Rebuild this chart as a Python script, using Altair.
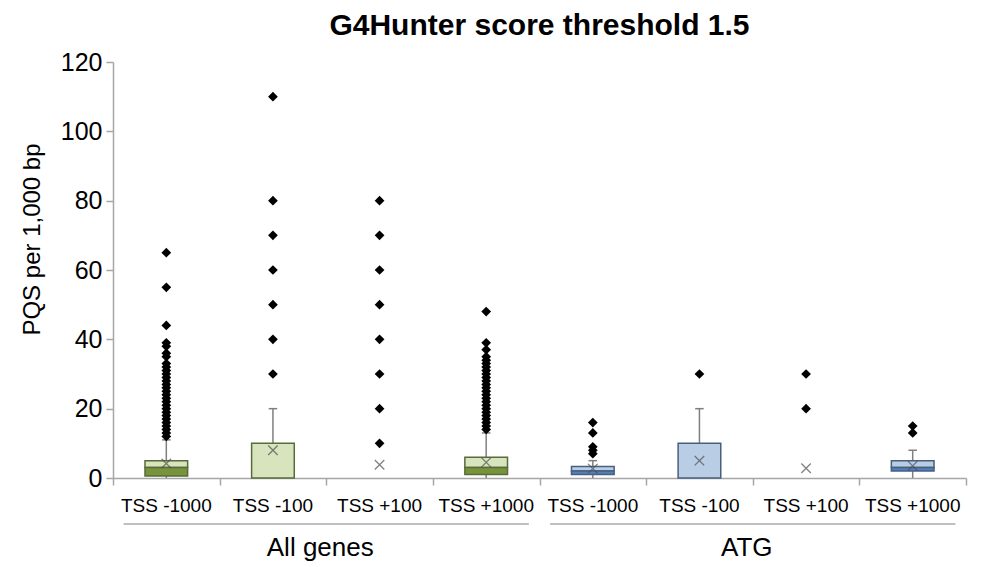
import altair as alt
import pandas as pd

# ---- data ----
groups = ["All genes"] * 4 + ["ATG"] * 4
positions = ["TSS -1000", "TSS -100", "TSS +100", "TSS +1000"] * 2
q1 = [0.6, 0, 0, 1, 1, 0, 0, 2]
median = [3, 0, 0, 3, 2, 0, 0, 3]
q3 = [5, 10, 0, 6, 3.3, 10, 0, 5]
whisker_lo = [0, 0, 0, 0, 0, 0, 0, 0]
whisker_hi = [11, 20, 0, 13, 5, 20, 0, 8]
means = [4.2, 8, 3.8, 4.5, 2.7, 5, 2.8, 3.5]
outliers = [
    list(range(12, 34)) + [35, 36, 38, 39, 44, 55, 65],
    [30, 40, 50, 60, 70, 80, 110],
    [10, 20, 30, 40, 50, 60, 70, 80],
    list(range(14, 36)) + [37, 39, 48],
    [7, 8, 9, 13, 16],
    [30],
    [20, 30],
    [13, 15],
]
group_names = ["All genes", "ATG"]

# ---- tables ----
df = pd.DataFrame({
    "group": groups, "position": positions, "q1": q1, "median": median,
    "q3": q3, "wlo": whisker_lo, "whi": whisker_hi, "mean": means,
})
df["idx"] = range(len(df))

out_rows = []
for i, vals in enumerate(outliers):
    for v in vals:
        out_rows.append({"idx": i, "value": v, "group": groups[i]})
odf = pd.DataFrame(out_rows)

gdf = pd.DataFrame({
    "group": group_names,
    "start": [groups.index(g) for g in group_names],
    "end": [len(groups) - groups[::-1].index(g) for g in group_names],
})

W, H = 853, 416
light = alt.Scale(domain=group_names, range=["#d7e4bd", "#b9cde5"])
dark = alt.Scale(domain=group_names, range=["#77933c", "#4f81bd"])
edge = alt.Scale(domain=group_names, range=["#5a6b3a", "#4a5f7e"])

xscale = alt.Scale(domain=[0, 8], nice=False, zero=False)
yscale = alt.Scale(domain=[0, 120], nice=False)

xaxis = alt.Axis(values=list(range(9)), labels=False, ticks=True, tickSize=7,
                 domainColor="#a6a6a6", tickColor="#a6a6a6", grid=False, title=None,
                 domainWidth=1.5, tickWidth=1.5)
yaxis = alt.Axis(values=[0, 20, 40, 60, 80, 100, 120], tickSize=7, grid=False,
                 domainColor="#a6a6a6", tickColor="#a6a6a6", labelFontSize=25,
                 labelColor="black", labelPadding=4, title="PQS per 1,000 bp",
                 titleFontSize=24, titleFontWeight="normal", titleColor="black",
                 titlePadding=16, titleY=177, domainWidth=1.5, tickWidth=1.5)

base = alt.Chart(df).transform_calculate(
    xl="datum.idx + 0.3", xr="datum.idx + 0.7", xc="datum.idx + 0.5",
    cl="datum.idx + 0.46", cr="datum.idx + 0.54",
)

whisk_up = base.transform_filter("datum.whi > datum.q3").mark_rule(
    color="#7f7f7f", strokeWidth=1.5).encode(
    x=alt.X("xc:Q", scale=xscale, axis=xaxis),
    y=alt.Y("q3:Q", scale=yscale, axis=yaxis),
    y2="whi:Q",
)
cap_up = base.transform_filter("datum.whi > datum.q3").mark_rule(
    color="#7f7f7f", strokeWidth=1.5).encode(
    x="cl:Q", x2="cr:Q", y="whi:Q",
)
whisk_lo = base.transform_filter("datum.wlo < datum.q1").mark_rule(
    color="#7f7f7f", strokeWidth=1.5).encode(
    x="xc:Q", y="wlo:Q", y2="q1:Q",
)
box_up = base.transform_filter("datum.q3 > datum.median").mark_rect(
    strokeWidth=1.5).encode(
    x="xl:Q", x2="xr:Q", y="median:Q", y2="q3:Q",
    fill=alt.Fill("group:N", scale=light, legend=None),
    stroke=alt.Stroke("group:N", scale=edge, legend=None),
)
box_lo = base.transform_filter("datum.median > datum.q1").mark_rect(
    strokeWidth=1.5).encode(
    x="xl:Q", x2="xr:Q", y="q1:Q", y2="median:Q",
    color=alt.Color("group:N", scale=dark, legend=None),
    stroke=alt.Stroke("group:N", scale=edge, legend=None),
)
mean_pt = base.mark_point(
    shape="M-1,-1L1,1M-1,1L1,-1", size=90, filled=False, color="#4d4d4d",
    strokeWidth=1.3).encode(
    x="xc:Q", y="mean:Q",
)
out_pt = alt.Chart(odf).transform_calculate(xc="datum.idx + 0.5").mark_point(
    shape="diamond", size=95, filled=True, color="black", opacity=1).encode(
    x="xc:Q", y="value:Q",
)
cat_text = base.mark_text(fontSize=19, baseline="alphabetic", color="black").encode(
    x="xc:Q", y=alt.value(450), text="position:N",
)
sep = alt.Chart(gdf).transform_calculate(
    a="datum.start + 0.1", b="datum.end - 0.1").mark_rule(
    color="#bfbfbf", strokeWidth=2).encode(
    x="a:Q", x2="b:Q", y=alt.value(462),
)
grp_text = alt.Chart(gdf).transform_calculate(
    c="(datum.start + datum.end) / 2").mark_text(
    fontSize=26, baseline="alphabetic", color="black", dx=-6).encode(
    x="c:Q", y=alt.value(494), text="group:N",
)

chart = alt.layer(
    whisk_up, cap_up, whisk_lo, box_up, box_lo, mean_pt, out_pt,
    cat_text, sep, grp_text,
).resolve_scale(color="independent", fill="independent").properties(
    width=W, height=H,
    padding={"left": 12, "top": 3, "right": 5, "bottom": 0},
    title=alt.TitleParams("G4Hunter score threshold 1.5", fontSize=30,
                          fontWeight="bold", anchor="middle", offset=9,
                          color="black"),
).configure(font="Liberation Sans").configure_view(stroke=None)

chart.save("out.html", embed_options={"renderer": "svg", "actions": False})
